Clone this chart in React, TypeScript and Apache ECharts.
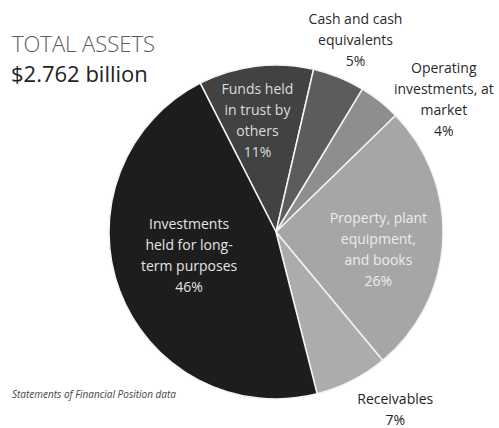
import React, { useEffect, useRef } from "react";
import * as echarts from "echarts";

const categories = [
  "Funds held\nin trust by\nothers",
  "Cash and cash\nequivalents",
  "Operating\ninvestments, at\nmarket",
  "Property, plant\nequipment,\nand books",
  "Receivables",
  "Investments\nheld for long-\nterm purposes",
];
const percents = [11, 5, 4, 26, 7, 46];
const sliceColors = ["#424242", "#5c5c5c", "#8e8e8e", "#a6a6a6", "#acacac", "#1d1d1d"];
const labelColors = ["#dcdcdc", "#2a2a2a", "#2a2a2a", "#ececec", "#222222", "#e4e4e4"];
const labelShift = [
  [-8, -26],
  [47, -112],
  [114, -65],
  [16, 12],
  [80, 100],
  [-6, -7],
];

export default function App() {
  const ref = useRef<HTMLDivElement>(null);
  useEffect(() => {
    if (!ref.current) return;
    const chart = echarts.init(ref.current, undefined, { renderer: "svg" });
    chart.setOption({
      animation: false,
      backgroundColor: "#ffffff",
      graphic: [
        {
          type: "text",
          left: 12,
          top: 32,
          style: {
            text: "TOTAL ASSETS",
            fontFamily: "Open Sans",
            fontSize: 22,
            fontWeight: 300,
            fill: "#5a5a5a",
          },
        },
        {
          type: "text",
          left: 11,
          top: 62,
          style: {
            text: "$2.762 billion",
            fontFamily: "Open Sans",
            fontSize: 22,
            fill: "#222222",
          },
        },
        {
          type: "text",
          left: 12,
          top: 389,
          style: {
            text: "Statements of Financial Position data",
            fontFamily: "Open Sans",
            fontStyle: "italic",
            fontSize: 10,
            fill: "#444444",
          },
        },
      ],
      series: [
        {
          type: "pie",
          center: [276, 232],
          radius: [0, 167],
          startAngle: 117,
          clockwise: true,
          avoidLabelOverlap: false,
          itemStyle: { borderColor: "#f4f4f4", borderWidth: 1.5 },
          label: {
            show: true,
            position: "inside",
            fontFamily: "Open Sans",
            fontSize: 14,
            lineHeight: 21,
            align: "center",
            formatter: (p: any) => `${categories[p.dataIndex]}\n${percents[p.dataIndex]}%`,
          },
          labelLine: { show: false },
          labelLayout: (p: any) => ({
            dx: labelShift[p.dataIndex][0],
            dy: labelShift[p.dataIndex][1],
          }),
          emphasis: { disabled: true },
          data: percents.map((v, i) => ({
            value: v,
            name: categories[i],
            itemStyle: { color: sliceColors[i] },
            label: { color: labelColors[i] },
          })),
        },
      ],
    });
    return () => chart.dispose();
  }, []);
  return (
    <div
      ref={ref}
      style={{ position: "fixed", left: 0, top: 0, width: 499, height: 428 }}
    />
  );
}
